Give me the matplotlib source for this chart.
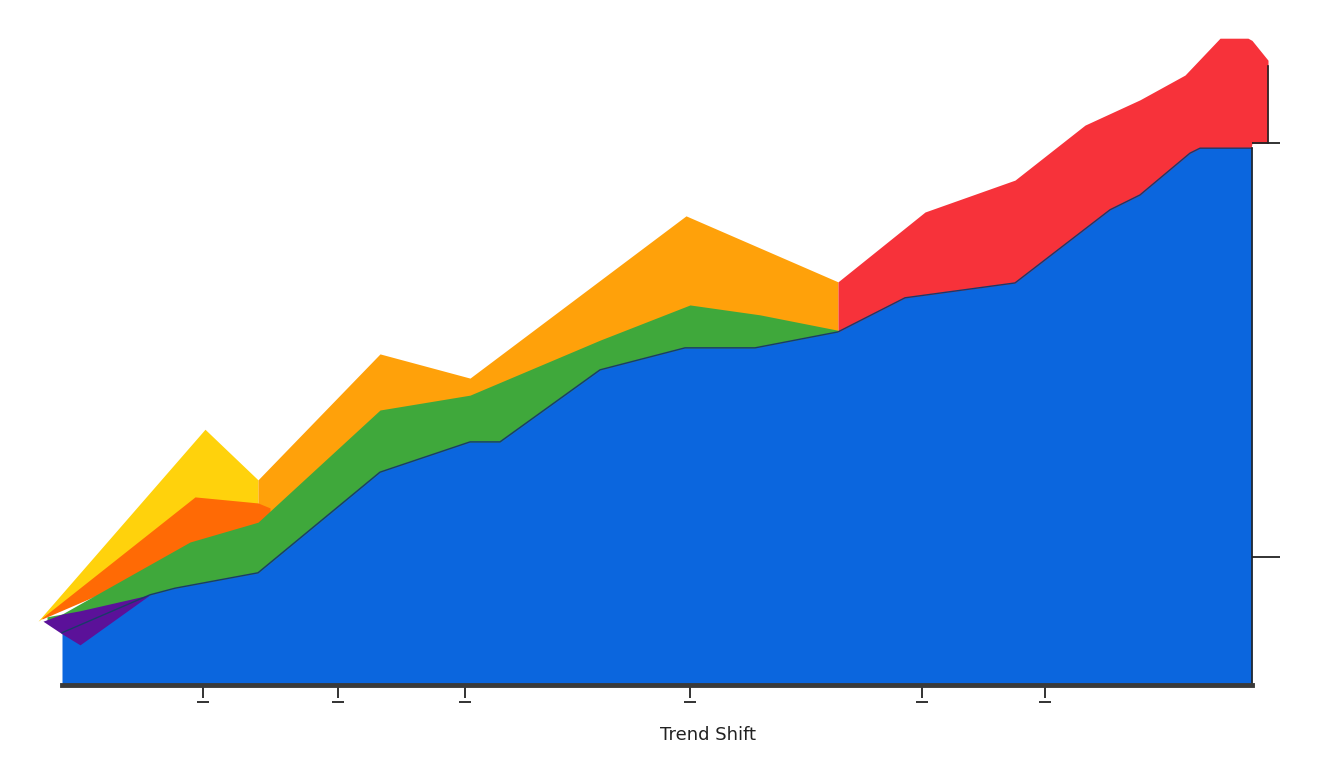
import matplotlib
matplotlib.use("Agg")
import matplotlib.pyplot as plt
import matplotlib.transforms as mtransforms

# layer outlines (x, lower, upper)
blue_x = [0.0, 0.88, 1.13, 1.96, 3.18, 4.08, 4.38, 5.38, 6.23, 6.93, 7.76, 8.43, 9.53, 10.48, 10.78, 11.28, 11.38, 11.9]
blue_top = [9.5, 16.4, 17.6, 20.4, 38.7, 44.2, 44.2, 57.3, 61.3, 61.3, 64.2, 70.4, 73.1, 86.4, 89.1, 96.7, 97.6, 97.6]

green_x = [-0.15, 0.0, 1.28, 1.96, 3.18, 4.08, 5.38, 6.28, 6.98, 7.76]
green_low = [11.8, 10.0, 15.0, 18.0, 35.0, 40.0, 54.0, 58.0, 59.0, 63.0]
green_top = [12.4, 12.9, 26.0, 29.6, 50.0, 52.7, 62.7, 69.1, 67.3, 64.5]

orange_x = [1.96, 3.18, 4.08, 6.24, 7.76]
orange_low = [26.0, 45.0, 48.0, 60.0, 63.0]
orange_top = [37.3, 60.2, 55.8, 85.3, 73.3]

dorange_x = [-0.2, 1.33, 1.96, 2.08]
dorange_low = [12.0, 24.0, 27.0, 29.0]
dorange_top = [12.2, 34.2, 33.1, 32.2]

yellow_x = [-0.24, 1.43, 1.96]
yellow_low = [11.6, 32.0, 32.0]
yellow_top = [11.6, 46.5, 37.3]

red_x = [7.76, 8.63, 9.53, 10.23, 10.78, 11.23, 11.58, 11.86, 11.9, 12.06]
red_low = [63.0, 68.0, 70.0, 80.0, 85.0, 92.0, 95.0, 95.0, 98.5, 98.5]
red_top = [73.3, 86.0, 91.8, 101.8, 106.4, 110.9, 117.6, 117.6, 117.2, 113.6]

purple_x = [-0.19, 0.0, 0.18, 0.88]
purple_low = [11.6, 9.3, 7.3, 16.4]
purple_top = [11.6, 12.9, 13.5, 16.4]

tick_x = [1.41, 2.76, 4.03, 6.28, 8.60, 9.83]
right_ticks = [23.3, 98.5]

fig = plt.figure(figsize=(13.44, 7.68), dpi=100)
ax = fig.add_axes([62 / 1344, 83 / 768, 1190 / 1344, 660 / 768])
ax.set_xlim(0, 11.9)
ax.set_ylim(0, 120)

# back to front
ax.fill_between(yellow_x, yellow_low, yellow_top, color="#FFD20C", lw=0, clip_on=False)
ax.fill_between(orange_x, orange_low, orange_top, color="#FFA10A", lw=0, clip_on=False)
ax.fill_between(dorange_x, dorange_low, dorange_top, color="#FF6A05", lw=0, clip_on=False)
ax.fill_between(red_x, red_low, red_top, color="#F7323A", lw=0, clip_on=False)
ax.fill_between(green_x, green_low, green_top, color="#3FA83B", lw=0, clip_on=False)
ax.fill_between(blue_x, 0, blue_top, color="#0B66DE", lw=0, clip_on=False)
ax.plot(blue_x, blue_top, color="#1a3a6a", lw=1, clip_on=False)
ax.fill_between(purple_x, purple_low, purple_top, color="#5B1199", lw=0, clip_on=False)

# red edge on the right
ax.plot([red_x[-1], red_x[-1]], [red_low[-1], red_top[-1] - 1], color="#222222", lw=1.2, clip_on=False)

for s in ["top", "left"]:
    ax.spines[s].set_visible(False)
ax.spines["bottom"].set_color("#3a3a3a")
ax.spines["bottom"].set_linewidth(3.5)
ax.spines["right"].set_color("#222222")
ax.spines["right"].set_linewidth(1.2)
ax.spines["right"].set_bounds(0, blue_top[-1])

ax.set_xticks(tick_x)
ax.set_xticklabels([])
ax.tick_params(axis="x", direction="out", length=9, width=1.3, color="#222222")
ax.set_yticks([])
ax2 = ax.twinx()
ax2.set_ylim(ax.get_ylim())
for s in ax2.spines.values():
    s.set_visible(False)
ax2.set_yticks(right_ticks)
ax2.set_yticklabels([])
ax2.tick_params(axis="y", direction="out", length=20, width=1.3, color="#222222")

# small feet under the x ticks
trans = mtransforms.blended_transform_factory(ax.transData, ax.transAxes)
ax.plot(tick_x, [-0.026] * len(tick_x), ls="none", marker="_", ms=9, mew=1.3,
        color="#222222", transform=trans, clip_on=False)

ax.set_xlabel("Trend Shift", fontsize=13, color="#222222")
ax.xaxis.set_label_coords(0.543, -0.062)

fig.savefig("out.png", dpi=100, facecolor="white")
